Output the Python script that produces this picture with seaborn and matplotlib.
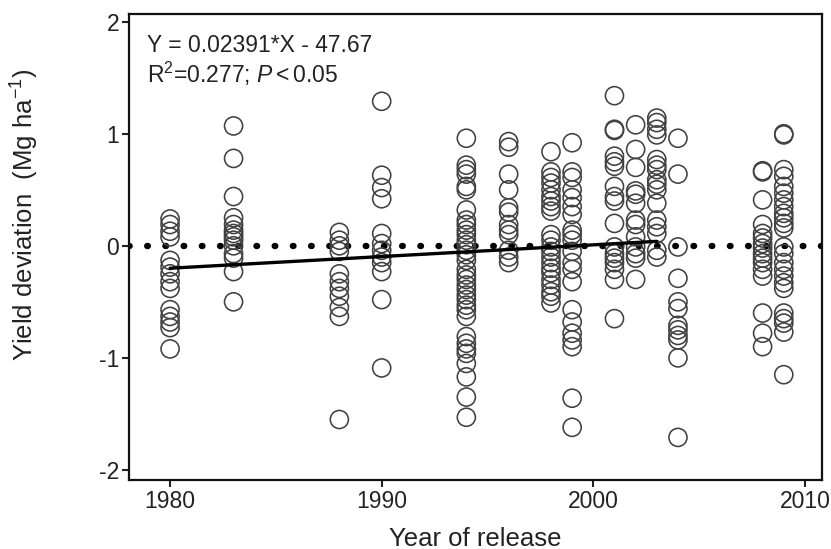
import matplotlib
matplotlib.use("Agg")
import matplotlib.pyplot as plt
import seaborn as sns
import pandas as pd

# ---- data ----
years = [1980, 1983, 1988, 1990, 1994, 1996, 1998, 1999, 2001, 2002, 2003, 2004, 2008, 2009]
y1980 = [0.24, 0.19, 0.13, 0.08, -0.13, -0.19, -0.25, -0.32, -0.38, -0.57, -0.63, -0.68, -0.73, -0.92]
y1983 = [1.07, 0.78, 0.44, 0.25, 0.19, 0.14, 0.11, 0.08, 0.05, 0.0, -0.07, -0.11, -0.23, -0.50]
y1988 = [0.12, 0.05, 0.0, -0.05, -0.25, -0.32, -0.38, -0.45, -0.55, -0.63, -1.55]
y1990 = [1.29, 0.63, 0.52, 0.42, 0.11, 0.02, -0.04, -0.10, -0.15, -0.23, -0.48, -1.09]
y1994 = [0.96, 0.72, 0.68, 0.64, 0.53, 0.50, 0.32, 0.23, 0.19, 0.14, 0.10, 0.05, 0.01,
         -0.04, -0.08, -0.13, -0.21, -0.26, -0.30, -0.35, -0.39, -0.44, -0.48, -0.53,
         -0.57, -0.63, -0.81, -0.87, -0.92, -0.96, -1.05, -1.17, -1.35, -1.53]
y1996 = [0.93, 0.88, 0.64, 0.50, 0.34, 0.30, 0.19, 0.14, 0.10, -0.04, -0.10, -0.15]
y1998 = [0.84, 0.66, 0.61, 0.56, 0.50, 0.44, 0.40, 0.35, 0.31, 0.10, 0.05, -0.01, -0.05,
         -0.10, -0.15, -0.20, -0.24, -0.30, -0.35, -0.41, -0.45, -0.51]
y1999 = [0.92, 0.66, 0.61, 0.50, 0.43, 0.35, 0.28, 0.14, 0.10, 0.05, -0.05, -0.15, -0.21,
         -0.32, -0.57, -0.68, -0.78, -0.84, -0.90, -1.36, -1.62]
y2001 = [1.34, 1.04, 1.03, 0.80, 0.75, 0.71, 0.53, 0.44, 0.40, 0.20, -0.01, -0.07, -0.11,
         -0.15, -0.21, -0.30, -0.65]
y2002 = [1.08, 0.86, 0.70, 0.49, 0.46, 0.38, 0.23, 0.19, 0.08, -0.01, -0.07, -0.11, -0.30]
y2003 = [1.14, 1.10, 1.04, 0.99, 0.77, 0.72, 0.68, 0.59, 0.55, 0.50, 0.38, 0.23, 0.17,
         0.11, -0.04, -0.10]
y2004 = [0.96, 0.64, -0.01, -0.29, -0.50, -0.56, -0.71, -0.75, -0.80, -0.84, -1.0, -1.71]
y2008 = [0.66, 0.67, 0.41, 0.19, 0.11, 0.07, 0.02, -0.02, -0.07, -0.11, -0.15, -0.21,
         -0.27, -0.60, -0.78, -0.90]
y2009 = [0.99, 1.0, 0.68, 0.62, 0.53, 0.47, 0.41, 0.35, 0.29, 0.25, 0.20, 0.16, -0.01,
         -0.07, -0.15, -0.21, -0.27, -0.33, -0.38, -0.60, -0.65, -0.69, -0.77, -1.15]

fit_x = [1980, 2003]
fit_y = [-0.20, 0.04]

xticks = [1980, 1990, 2000, 2010]
yticks = [-2, -1, 0, 1, 2]
eq_text = "Y = 0.02391*X - 47.67"
r2_text = r"R$^{2}$=0.277; $\mathit{P<0.05}$"
xlabel = "Year of release"
ylabel = r"Yield deviation  (Mg ha$^{-1}$)"

series = [y1980, y1983, y1988, y1990, y1994, y1996, y1998, y1999,
          y2001, y2002, y2003, y2004, y2008, y2009]
rows = []
for yr, vals in zip(years, series):
    for v in vals:
        rows.append({"year": yr, "dev": v})
df = pd.DataFrame(rows)

# ---- style ----
sns.set_theme(style="ticks")
plt.rcParams["font.family"] = ["Liberation Sans", "DejaVu Sans"]
plt.rcParams["mathtext.fontset"] = "custom"
plt.rcParams["mathtext.rm"] = "Liberation Sans"
plt.rcParams["mathtext.it"] = "Liberation Sans:italic"
plt.rcParams["mathtext.bf"] = "Liberation Sans:bold"

fig = plt.figure(figsize=(8.31, 5.49), dpi=100)
ax = fig.add_axes([0.155, 0.1257, 0.834, 0.849])

ax.axhline(0, color="black", lw=4.6, linestyle=(0, (0.1, 2.75)),
           dash_capstyle="round", zorder=1)

sns.scatterplot(data=df, x="year", y="dev", ax=ax, s=170, marker="o",
                facecolor="none", edgecolor="#414141", linewidth=1.15,
                legend=False, zorder=2)

sns.lineplot(x=fit_x, y=fit_y, ax=ax, color="black", lw=2.4, zorder=3)

ax.set_xlim(1978.05, 2010.8)
ax.set_ylim(-2.09, 2.07)
ax.set_xticks(xticks)
ax.set_yticks(yticks)
ax.set_xticklabels([str(t) for t in xticks])
ax.set_yticklabels([str(t) for t in yticks])

for sp in ax.spines.values():
    sp.set_visible(True)
    sp.set_linewidth(1.6)
    sp.set_color("#111111")

ax.tick_params(axis="both", direction="out", length=5, width=1.5,
               labelsize=16.5, colors="#222222", pad=2)

ax.set_xlabel(xlabel, fontsize=18.5, color="#222222", labelpad=10)
ax.set_ylabel(ylabel, fontsize=18.5, color="#222222")
ax.yaxis.set_label_coords(-0.127, 0.57)

ax.text(0.026, 0.933, eq_text, transform=ax.transAxes, fontsize=16.5,
        color="#222222", va="center", ha="left")
ax.text(0.026, 0.872, r2_text, transform=ax.transAxes, fontsize=16.5,
        color="#222222", va="center", ha="left")

fig.savefig("out.png", dpi=100)
